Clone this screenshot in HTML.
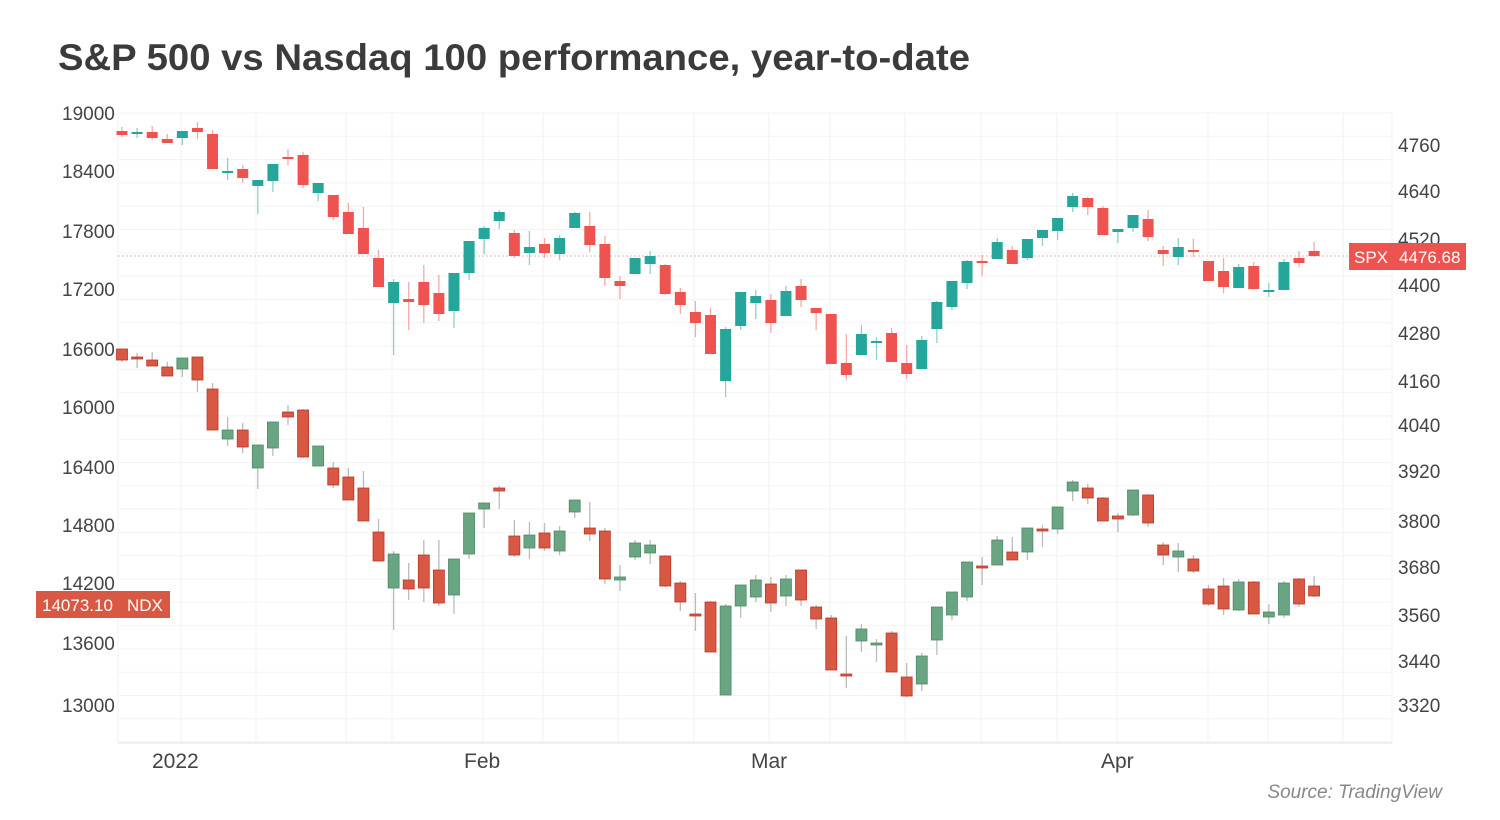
<!DOCTYPE html>
<html><head><meta charset="utf-8"><style>
html,body{margin:0;padding:0;background:#fff;}
svg{display:block;font-family:"Liberation Sans",sans-serif;}
</style></head><body>
<svg id="c" width="1500" height="820" viewBox="0 0 1500 820" xmlns="http://www.w3.org/2000/svg">
<rect width="1500" height="820" fill="#fff"/>
<text x="58" y="70" font-size="37" font-weight="bold" fill="#3b3b3b" textLength="912" lengthAdjust="spacingAndGlyphs">S&amp;P 500 vs Nasdaq 100 performance, year-to-date</text>
<g id="grid"></g>
<line x1="118" y1="743" x2="1392" y2="743" stroke="#e6e6e6"/>
<line x1="118" y1="256" x2="1392" y2="256" stroke="#f4b5b5" stroke-dasharray="2,2"/>
<g id="cand"></g>
<g font-size="19" fill="#444">
<text x="62" y="120">19000</text><text x="62" y="178">18400</text><text x="62" y="238">17800</text><text x="62" y="296">17200</text><text x="62" y="356">16600</text><text x="62" y="414">16000</text><text x="62" y="474">16400</text><text x="62" y="532">14800</text><text x="62" y="590">14200</text><text x="62" y="650">13600</text><text x="62" y="712">13000</text>
<text x="1398" y="152">4760</text><text x="1398" y="198">4640</text><text x="1398" y="246">4520</text><text x="1398" y="292">4400</text><text x="1398" y="340">4280</text><text x="1398" y="388">4160</text><text x="1398" y="432">4040</text><text x="1398" y="478">3920</text><text x="1398" y="528">3800</text><text x="1398" y="574">3680</text><text x="1398" y="622">3560</text><text x="1398" y="668">3440</text><text x="1398" y="712">3320</text>
</g>
<g font-size="21" fill="#444">
<text x="152" y="768">2022</text><text x="464" y="768">Feb</text><text x="751" y="768">Mar</text><text x="1101" y="768">Apr</text>
</g>
<rect x="1349" y="243" width="117" height="27" fill="#ef5350"/>
<text x="1354" y="263" font-size="17" fill="#fff">SPX</text><text x="1399" y="263" font-size="17" fill="#fff">4476.68</text>
<rect x="36" y="591" width="134" height="27" fill="#d95843"/>
<text x="42" y="611" font-size="17" fill="#fff">14073.10</text><text x="127" y="611" font-size="17" fill="#fff">NDX</text>
<text x="1442" y="798" font-size="19" font-style="italic" fill="#888" text-anchor="end">Source: TradingView</text>
</svg>
<script>
var NS="http://www.w3.org/2000/svg";
function el(p,t,a){var e=document.createElementNS(NS,t);for(var k in a)e.setAttribute(k,a[k]);p.appendChild(e);return e;}
var g=document.getElementById('grid');
for(var y=113;y<=743;y+=23.3)el(g,'line',{x1:118,x2:1392,y1:y,y2:y,stroke:'#f3f3f3'});
[118,181,256,346,392,483,543,618,694,769,830,905,981,1057,1117,1208,1268,1343,1392].forEach(function(x){el(g,'line',{x1:x,x2:x,y1:113,y2:743,stroke:'#f1f1f1'});});
// [bodyTop, bodyBot, wickTop, wickBot, up]
var S=[[131,135,127,137,0],[132,134,128,138,1],[132,138,126,140,0],[139,143,134,143,0],[131,138,131,145,1],[128,132,122,139,0],[134,169,130,169,0],[171,172,158,180,1],[169,178,165,183,0],[180,186,180,214,1],[164,181,164,192,1],[157,158,149,165,0],[155,185,152,188,0],[183,193,183,201,1],[195,217,195,220,0],[212,234,203,234,0],[228,254,207,254,0],[258,287,250,287,0],[282,303,279,355,1],[299,302,282,330,0],[282,305,265,323,0],[293,314,275,321,0],[273,311,273,328,1],[241,273,241,280,1],[228,239,226,254,1],[212,221,210,229,1],[233,256,230,258,0],[247,253,231,265,1],[244,253,238,258,0],[238,254,235,260,1],[213,228,212,228,1],[226,245,212,252,0],[244,278,236,286,0],[281,286,276,299,0],[258,274,258,274,1],[256,264,251,274,1],[265,294,264,295,0],[292,305,288,314,0],[312,323,301,337,0],[315,354,308,354,0],[329,381,327,397,1],[292,326,292,330,1],[296,303,290,319,1],[300,323,294,333,0],[291,316,286,316,1],[286,300,279,307,0],[308,313,308,330,0],[314,364,314,364,0],[363,375,334,380,0],[334,355,325,355,1],[341,343,337,360,1],[333,362,328,362,0],[363,374,345,379,0],[340,369,336,369,1],[302,329,301,343,1],[281,307,281,310,1],[261,283,260,289,1],[261,262,255,276,0],[242,259,238,259,1],[250,264,246,264,0],[239,258,239,260,1],[230,238,230,246,1],[218,231,218,240,1],[196,207,193,212,1],[198,207,197,215,0],[208,235,206,235,0],[229,232,229,243,1],[215,228,215,232,1],[219,237,210,241,0],[250,254,246,266,0],[247,257,238,265,1],[250,252,239,257,0],[261,281,261,281,0],[271,287,258,293,0],[267,288,264,288,1],[266,289,262,289,0],[290,291,283,297,1],[262,290,259,290,1],[258,263,251,267,0],[251,256,242,257,0]];
var N=[[349,360,349,362,0],[357,359,353,368,0],[360,366,352,366,0],[367,376,362,376,0],[358,369,358,377,1],[357,380,357,392,0],[389,430,383,430,0],[430,439,417,446,1],[430,447,423,453,0],[445,468,445,489,1],[422,448,422,456,1],[412,417,405,425,0],[410,457,409,458,0],[446,466,446,466,1],[468,485,462,488,0],[477,500,468,500,0],[488,521,471,521,0],[532,561,519,561,0],[554,588,551,630,1],[580,589,563,600,0],[555,588,540,602,0],[570,603,540,606,0],[559,595,559,614,1],[513,554,513,559,1],[503,509,503,528,1],[488,491,486,509,0],[536,555,520,557,0],[535,548,522,559,1],[533,548,523,551,0],[531,551,526,555,1],[500,512,500,518,1],[528,534,502,541,0],[531,579,528,584,0],[577,580,565,591,1],[543,557,540,560,1],[545,553,540,564,1],[556,586,555,587,0],[583,602,581,611,0],[614,616,593,631,0],[602,652,601,652,0],[606,695,604,695,1],[585,606,585,618,1],[580,597,575,602,1],[584,603,577,612,0],[579,596,575,606,1],[570,600,570,606,0],[607,619,605,629,0],[618,670,615,670,0],[674,675,636,688,0],[629,641,624,652,1],[643,645,639,662,1],[633,672,631,672,0],[677,696,663,697,0],[656,684,653,691,1],[607,640,607,655,1],[592,615,592,620,1],[562,597,562,601,1],[566,567,557,585,0],[540,565,536,565,1],[552,560,537,560,0],[528,552,528,560,1],[529,530,525,547,0],[507,529,507,534,1],[482,491,480,501,1],[488,498,484,504,0],[498,521,497,521,0],[516,519,513,532,0],[490,515,490,516,1],[495,523,494,527,0],[545,555,542,565,0],[551,557,543,572,1],[559,571,555,573,0],[589,604,585,606,0],[586,609,578,615,0],[582,610,579,611,1],[582,614,581,614,0],[612,617,604,624,1],[583,615,581,618,1],[579,604,578,607,0],[586,596,576,597,0]];
var c=document.getElementById('cand');
function draw(D,up,dn,wu,wd,stroke){D.forEach(function(d,i){var x=122+15.09*i;
el(c,'line',{x1:x,x2:x,y1:d[2],y2:d[3],stroke:d[4]?wu:wd,'stroke-width':1.3});
var h=Math.max(d[1]-d[0],2);
el(c,'rect',{x:x-5.5,y:d[0],width:11,height:h,fill:d[4]?up:dn,stroke:stroke?(d[4]?'#4f8a66':'#b8382a'):'none','stroke-width':stroke?0.8:0});});}
draw(S,'#26a69a','#ef5350','#8fd0c8','#f7a9a7',false);
draw(N,'#6aa583','#d95843','#bbbbbb','#bbbbbb',true);
</script>
</body></html>
